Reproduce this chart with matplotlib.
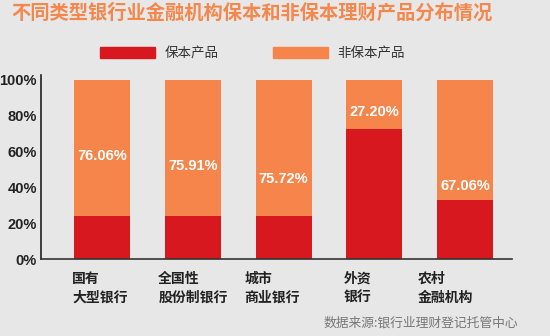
import numpy as np
import matplotlib.pyplot as plt
from matplotlib.patches import Patch

plt.rcParams['font.family'] = ['Liberation Sans', 'Noto Sans CJK SC', 'DejaVu Sans']

categories = ['国有\n大型银行', '全国性\n股份制银行', '城市\n商业银行', '外资\n银行', '农村\n金融机构']
non_guaranteed = [76.06, 75.91, 75.72, 27.20, 67.06]
guaranteed = [100 - v for v in non_guaranteed]
labels = ['76.06%', '75.91%', '75.72%', '27.20%', '67.06%']
label_y = [57.5, 52, 44.7, 82, 41]
cat_x = [-0.33, 0.62, 1.57, 2.66, 3.48]

red = '#d7191f'
orange = '#f5854a'
bg = '#e7e7e7'

fig = plt.figure(figsize=(5.5, 3.36), dpi=100, facecolor=bg)
ax = fig.add_axes([0.0745, 0.229, 0.8565, 0.548])
ax.set_facecolor(bg)

x = np.arange(len(categories))
ax.bar(x, guaranteed, width=0.617, color=red)
ax.bar(x, non_guaranteed, bottom=guaranteed, width=0.617, color=orange)

for i in range(len(x)):
    ax.text(x[i], label_y[i], labels[i], ha='center', va='center', color='white',
            fontsize=10.5, fontweight='bold')

ax.set_xlim(-0.672, 4.518)
ax.set_ylim(0, 102.8)
ax.set_yticks([0, 20, 40, 60, 80, 100])
ax.set_yticklabels(['0%', '20%', '40%', '60%', '80%', '100%'], fontsize=10.5,
                   fontweight='bold', color='#222222')
ax.tick_params(axis='y', length=0, pad=3)
ax.set_xticks([])
ax.spines['top'].set_visible(False)
ax.spines['right'].set_visible(False)
ax.spines['left'].set_color('#222222')
ax.spines['bottom'].set_color('#333333')
ax.spines['left'].set_linewidth(1.2)
ax.spines['bottom'].set_linewidth(1.2)

for i, c in enumerate(categories):
    ax.text(cat_x[i], -7, c, ha='left', va='top', fontsize=10, fontweight='bold',
            color='#222222', linespacing=1.5, family=['Noto Sans CJK SC'])

fig.text(0.02, 0.962, '不同类型银行业金融机构保本和非保本理财产品分布情况', fontsize=13.9,
         fontweight='bold', color='#f4874b', va='center', ha='left',
         family=['Noto Sans CJK SC'])

leg = fig.legend(handles=[Patch(color=red, label='保本产品'), Patch(color=orange, label='非保本产品')],
                 loc='center left', bbox_to_anchor=(0.182, 0.842), ncol=2, frameon=False,
                 handlelength=4.1, handleheight=0.85, columnspacing=4.0, handletextpad=0.7,
                 borderpad=0, borderaxespad=0,
                 prop={'family': 'Noto Sans CJK SC', 'size': 9.7})
for t in leg.get_texts():
    t.set_color('#333333')

fig.text(0.942, 0.038, '数据来源:银行业理财登记托管中心', fontsize=9.2, color='#777777',
         ha='right', va='center', family=['Noto Sans CJK SC'])

fig.savefig('out.png', dpi=100, facecolor=bg)
